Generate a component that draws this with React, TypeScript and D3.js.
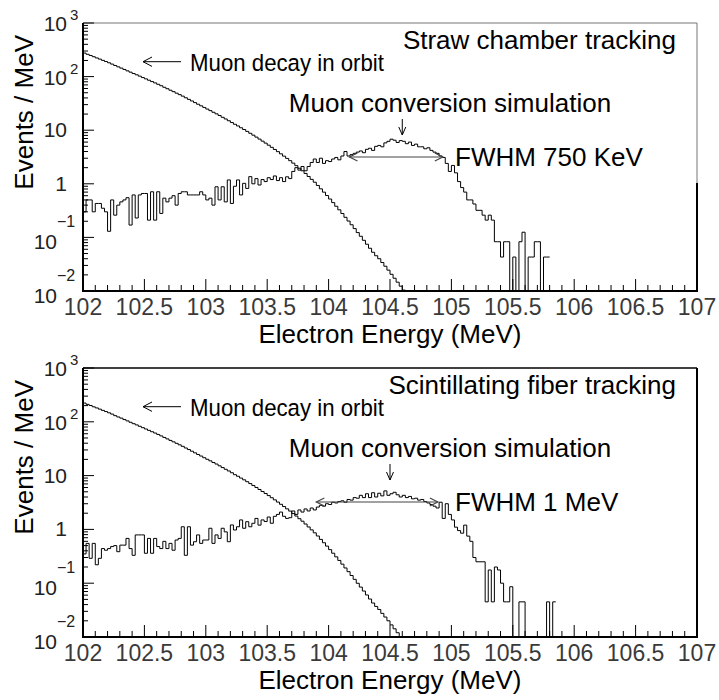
import React from "react";
import * as d3 from "d3";

// ---------- data ----------
const X_MIN = 102;
const X_MAX = 107;
const BIN_WIDTH = 0.025;

const xTickValues = [102, 102.5, 103, 103.5, 104, 104.5, 105, 105.5, 106, 106.5, 107];
const xTickLabels = ["102", "102.5", "103", "103.5", "104", "104.5", "105", "105.5", "106", "106.5", "107"];
const yExponents = [3, 2, 1, 0, -1, -2];

// Muon decay in orbit, bins of 0.025 MeV starting at 102 (top panel: straw chamber)
const dioTop = [
  275, 261, 248, 235, 223, 212, 201, 191, 181, 171, 161, 152, 144, 136, 128, 121,
  114, 108, 102, 96, 90.7, 85.6, 80.8, 76.3, 71.8, 67.5, 63.2, 59.4, 55.7, 52.4, 49.1, 46.1,
  43.2, 40.3, 37.6, 35.1, 32.7, 30.5, 28.5, 26.6, 24.8, 23.2, 21.6, 20.2, 18.8, 17.4, 16.2, 15.0,
  13.9, 12.9, 12.0, 11.1, 10.3, 9.5, 8.76, 8.08, 7.43, 6.82, 6.25, 5.74, 5.25, 4.79, 4.37, 3.98,
  3.62, 3.28, 2.98, 2.7, 2.43, 2.18, 1.95, 1.75, 1.56, 1.37, 1.21, 1.07, 0.931, 0.805, 0.698, 0.604,
  0.52, 0.446, 0.381, 0.327, 0.279, 0.237, 0.202, 0.172, 0.146, 0.123, 0.105, 0.0883,
  0.0746, 0.0627, 0.0528, 0.0455, 0.04, 0.034, 0.029, 0.0245, 0.0205, 0.0173, 0.0146, 0.0123,
  0.0104, 0.0088,
];

// Muon conversion simulation (top panel: straw chamber tracking)
const convTop = [
  0.3, 0.5, 0.5, 0.3, 0.43, 0.43, 0.35, 0.3, 0.13, 0.5,
  0.26, 0.4, 0.46, 0.5, 0.55, 0.17, 0.62, 0.23, 0.62, 0.66,
  0.66, 0.21, 0.71, 0.21, 0.71, 0.28, 0.54, 0.46, 0.54, 0.6,
  0.4, 0.66, 0.71, 0.71, 0.62, 0.62, 0.62, 0.62, 0.71, 0.62,
  0.5, 0.54, 0.4, 0.88, 0.5, 0.88, 0.46, 1.18, 0.43, 0.9,
  1.18, 0.62, 1.02, 0.82, 1.36,
  1.0, 1.25, 0.95, 1.2, 1.1,
  1.3, 1.2, 1.4, 1.15, 1.3, 1.1, 1.35, 1.25,
  1.7, 2.0, 1.8, 2.1, 1.75, 2.1,
  2.5, 2.9, 2.5, 3.0, 2.4, 2.7,
  2.6, 2.9, 3.1, 2.8,
  3.3, 4.0, 3.3, 3.5,
  3.7, 3.9, 4.1, 3.8, 4.4, 4.6, 4.2, 5.0, 5.2, 4.9,
  5.8, 6.2, 6.8, 6.5, 5.9, 6.4,
  6.2, 5.6, 6.0, 5.2, 5.5, 4.9,
  4.9, 4.5, 4.7, 4.2, 3.9, 3.7,
  3.3, 3.1,
  2.4, 1.7, 2.2, 1.6,
  1.1, 0.85, 0.7,
  0.5, 0.5, 0.42, 0.32,
  0.32, 0.26, 0.21, 0.26, 0.21, 0.083, 0.083, 0.043, 0.083, 0.083, 0, 0.043, 0,
  0.083, 0.125, 0, 0.043, 0.043, 0.083, 0.083, 0, 0.043, 0.043,
];

// Muon decay in orbit (bottom panel: scintillating fiber)
const dioBottom = [
  223, 211, 201, 190, 181, 172, 163, 155, 147, 139, 130, 123, 117, 110, 104, 98,
  92.3, 87.5, 82.6, 77.8, 73.5, 69.3, 65.4, 61.8, 58.2, 54.7, 51.2, 48.1, 45.1, 42.4, 39.8, 37.3,
  35.0, 32.6, 30.5, 28.4, 26.5, 24.7, 23.1, 21.5, 20.1, 18.8, 17.5, 16.4, 15.2, 14.1, 13.1, 12.2,
  11.3, 10.4, 9.72, 8.99, 8.34, 7.7, 7.1, 6.54, 6.02, 5.52, 5.06, 4.65, 4.25, 3.88, 3.54, 3.22,
  2.93, 2.66, 2.41, 2.19, 1.97, 1.77, 1.58, 1.42, 1.26, 1.11, 0.979, 0.863, 0.754, 0.652, 0.565, 0.489,
  0.421, 0.361, 0.309, 0.265, 0.226, 0.192, 0.164, 0.139, 0.118, 0.0996, 0.0846, 0.0715,
  0.0604, 0.0508, 0.0428, 0.037, 0.0325, 0.0275, 0.0235, 0.02, 0.0168, 0.0142, 0.012, 0.0101,
  0.0085, 0.0072,
];

// Muon conversion simulation (bottom panel: scintillating fiber tracking)
const convBottom = [
  0.35, 0.55, 0.29, 0.55, 0.22, 0.29, 0.44, 0.41, 0.44, 0.48,
  0.5, 0.385, 0.51, 0.51, 0.68, 0.44, 0.33, 0.79, 0.79, 0.79,
  0.36, 0.68, 0.36, 0.68, 0.48, 0.44, 0.6, 0.44, 0.55, 0.41,
  0.635, 0.68, 1.12, 0.33, 1.12, 0.51, 0.59, 0.79, 0.55, 0.635,
  0.635, 1.05, 0.55, 0.79, 0.68, 1.05, 0.9, 0.59, 1.21, 0.975,
  1.12, 1.5, 1.05, 1.39, 1.12,
  1.3, 1.6, 1.2, 1.5, 1.4, 1.7, 1.3, 1.75,
  1.9, 2.1, 1.75, 1.6, 1.65, 2.2, 1.9,
  2.3, 2.1, 2.4, 2.2, 2.5, 2.3,
  2.6, 2.8, 2.7, 3.0, 2.9, 3.2, 3.1, 3.3, 3.4, 3.2, 3.6, 3.5,
  3.9, 3.8, 4.3, 3.9, 4.6, 3.9, 4.8, 4.0, 4.7, 4.2, 5.2, 4.3, 4.6, 4.9, 4.4,
  4.0, 4.3, 3.9, 4.1, 3.7, 3.8, 3.5, 3.6, 3.3,
  3.1, 2.9, 2.7, 2.5,
  3.2, 1.6, 3.0, 1.9,
  1.5, 1.1, 0.95, 0.85,
  1.2, 0.75,
  0.6, 0.3,
  0.25, 0.25,
  0.25, 0.045, 0.176, 0.045, 0.2, 0.176, 0.1, 0.045, 0.045, 0.086, 0, 0,
  0.045, 0.045, 0, 0, 0, 0, 0, 0, 0, 0.045, 0, 0.045,
];

// ---------- layout ----------
const FONT = "'Liberation Sans', Arial, Helvetica, sans-serif";
const LEFT = 83;
const RIGHT = 697;

interface PanelProps {
  top: number;
  bottom: number;
  dio: number[];
  conv: number[];
  label: string;
  fwhmLabel: string;
  fwhmFrom: number;
  fwhmTo: number;
  peakArrowE: number;
  topFrameGray: boolean;
}

function stepPath(values: number[], x: d3.ScaleLinear<number, number>, y: d3.ScaleLogarithmic<number, number>, yMin: number) {
  const pts: [number, number][] = values.map((v, i) => [X_MIN + i * BIN_WIDTH, v]);
  pts.push([X_MIN + values.length * BIN_WIDTH, values[values.length - 1]]);
  const line = d3
    .line<[number, number]>()
    .x((d) => x(d[0]))
    .y((d) => y(Math.max(d[1], yMin)))
    .curve(d3.curveStepAfter);
  return line(pts) || "";
}

function Panel(p: PanelProps) {
  const x = d3.scaleLinear().domain([X_MIN, X_MAX]).range([LEFT, RIGHT]);
  const y = d3.scaleLog().domain([0.01, 1000]).range([p.bottom, p.top]);
  const clipId = `clip${p.top}`;

  const minorX = d3.range(X_MIN, X_MAX + 0.0001, 0.1).map((v) => Math.round(v * 10) / 10);
  const minorY: number[] = [];
  for (let e = -2; e < 3; e++) for (let k = 2; k <= 9; k++) minorY.push(k * Math.pow(10, e));

  const ay = p.top;

  return (
    <g>
      <defs>
        <clipPath id={clipId}>
          <rect x={LEFT} y={p.top} width={RIGHT - LEFT} height={p.bottom - p.top} />
        </clipPath>
      </defs>

      {/* histograms */}
      <g clipPath={`url(#${clipId})`} fill="none" stroke="#000" strokeWidth={1}>
        <path d={stepPath(p.dio, x, y, 0.01)} />
        <path d={stepPath(p.conv, x, y, 0.01)} />
      </g>

      {/* frame */}
      {p.topFrameGray ? (
        <g>
          <line x1={LEFT} x2={RIGHT} y1={p.top} y2={p.top} stroke="#777" strokeWidth={1} />
          <line x1={RIGHT} x2={RIGHT} y1={p.top} y2={p.top + 160} stroke="#777" strokeWidth={1} />
          <line x1={RIGHT} x2={RIGHT} y1={p.top + 160} y2={p.bottom} stroke="#000" strokeWidth={2} />
        </g>
      ) : (
        <g>
          <line x1={LEFT} x2={RIGHT} y1={p.top} y2={p.top} stroke="#000" strokeWidth={1.5} />
          <line x1={RIGHT} x2={RIGHT} y1={p.top} y2={p.bottom} stroke="#000" strokeWidth={2} />
        </g>
      )}
      <line x1={LEFT} x2={LEFT} y1={p.top} y2={p.bottom + 1} stroke="#000" strokeWidth={2} />
      <line x1={LEFT - 1} x2={RIGHT + 1} y1={p.bottom} y2={p.bottom} stroke="#000" strokeWidth={2} />

      {/* x ticks */}
      {minorX.map((v) => {
        const major = Math.abs(v * 2 - Math.round(v * 2)) < 1e-6;
        return (
          <line key={`xt${v}`} x1={x(v)} x2={x(v)} y1={p.bottom} y2={p.bottom - (major ? 12 : 6)} stroke="#000" strokeWidth={1} />
        );
      })}
      {xTickValues.map((v, i) => (
        <text key={`xl${v}`} x={x(v)} y={p.bottom + 24} textAnchor="middle" fontSize={23} fontFamily={FONT} fill="#3a3a3a">
          {xTickLabels[i]}
        </text>
      ))}
      <text x={(LEFT + RIGHT) / 2} y={p.bottom + 52} textAnchor="middle" fontSize={26} fontFamily={FONT}>
        Electron Energy (MeV)
      </text>

      {/* y ticks */}
      {minorY.map((v) => (
        <line key={`ym${v}`} x1={LEFT} x2={LEFT + 5} y1={y(v)} y2={y(v)} stroke="#000" strokeWidth={1} />
      ))}
      {yExponents.map((e) => (
        <line key={`yM${e}`} x1={LEFT} x2={LEFT + 11} y1={y(Math.pow(10, e))} y2={y(Math.pow(10, e))} stroke="#000" strokeWidth={1} />
      ))}
      {yExponents.map((e) => {
        const ty = y(Math.pow(10, e));
        if (e >= 2) {
          return (
            <g key={`yl${e}`} fontFamily={FONT} fill="#222">
              <text x={67} y={ty + 8} textAnchor="end" fontSize={21}>10</text>
              <text x={70} y={ty - 3} fontSize={15}>{String(e)}</text>
            </g>
          );
        }
        if (e === 1) {
          return (
            <text key={`yl${e}`} x={67} y={ty + 7} textAnchor="end" fontSize={21} fontFamily={FONT} fill="#222">10</text>
          );
        }
        if (e === 0) {
          return (
            <text key={`yl${e}`} x={67} y={ty + 7} textAnchor="end" fontSize={21} fontFamily={FONT} fill="#222">1</text>
          );
        }
        return (
          <g key={`yl${e}`} fontFamily={FONT} fill="#222">
            <text x={57} y={ty + 12} textAnchor="end" fontSize={21}>10</text>
            <text x={57} y={ty - 10} fontSize={16}>{"\u2212" + String(-e)}</text>
          </g>
        );
      })}
      <text transform={`translate(33,${p.top + 12}) rotate(-90)`} textAnchor="end" fontSize={26} fontFamily={FONT}>
        Events / MeV
      </text>

      {/* annotations */}
      <text x={676} y={ay + 26} textAnchor="end" fontSize={26} fontFamily={FONT}>{p.label}</text>
      <g stroke="#000" strokeWidth={1} fill="none">
        <line x1={143} x2={181} y1={ay + 38.7} y2={ay + 38.7} />
        <polyline points={`152,${ay + 34} 143,${ay + 38.7} 152,${ay + 43.4}`} />
      </g>
      <text x={190} y={ay + 48} fontSize={24.5} fontFamily={FONT} textLength={194} lengthAdjust="spacingAndGlyphs">
        Muon decay in orbit
      </text>
      <text x={450} y={ay + 89} textAnchor="middle" fontSize={26} fontFamily={FONT}>Muon conversion simulation</text>
      <g stroke="#000" strokeWidth={1} fill="none">
        <line x1={x(p.peakArrowE)} x2={x(p.peakArrowE)} y1={ay + 96} y2={ay + 112} />
        <polyline points={`${x(p.peakArrowE) - 3.5},${ay + 104} ${x(p.peakArrowE)},${ay + 112} ${x(p.peakArrowE) + 3.5},${ay + 104}`} />
      </g>
      <g stroke="#444" strokeWidth={1.2} fill="none">
        <line x1={x(p.fwhmFrom)} x2={x(p.fwhmTo)} y1={ay + 134} y2={ay + 134} />
        <polyline points={`${x(p.fwhmFrom) + 8},${ay + 130} ${x(p.fwhmFrom)},${ay + 134} ${x(p.fwhmFrom) + 8},${ay + 138}`} />
        <polyline points={`${x(p.fwhmTo) - 8},${ay + 130} ${x(p.fwhmTo)},${ay + 134} ${x(p.fwhmTo) - 8},${ay + 138}`} />
      </g>
      <text x={455} y={ay + 143} fontSize={26} fontFamily={FONT}>{p.fwhmLabel}</text>
    </g>
  );
}

export default function App() {
  return (
    <svg
      width={719}
      height={700}
      style={{ position: "absolute", left: 0, top: 0, background: "#fff" }}
    >
      <rect width={719} height={700} fill="#fff" />
      <Panel
        top={23}
        bottom={291}
        dio={dioTop}
        conv={convTop}
        label="Straw chamber tracking"
        fwhmLabel="FWHM 750 KeV"
        fwhmFrom={104.17}
        fwhmTo={104.93}
        peakArrowE={104.6}
        topFrameGray={true}
      />
      <Panel
        top={368}
        bottom={637}
        dio={dioBottom}
        conv={convBottom}
        label="Scintillating fiber tracking"
        fwhmLabel="FWHM 1 MeV"
        fwhmFrom={103.9}
        fwhmTo={104.89}
        peakArrowE={104.5}
        topFrameGray={false}
      />
    </svg>
  );
}
